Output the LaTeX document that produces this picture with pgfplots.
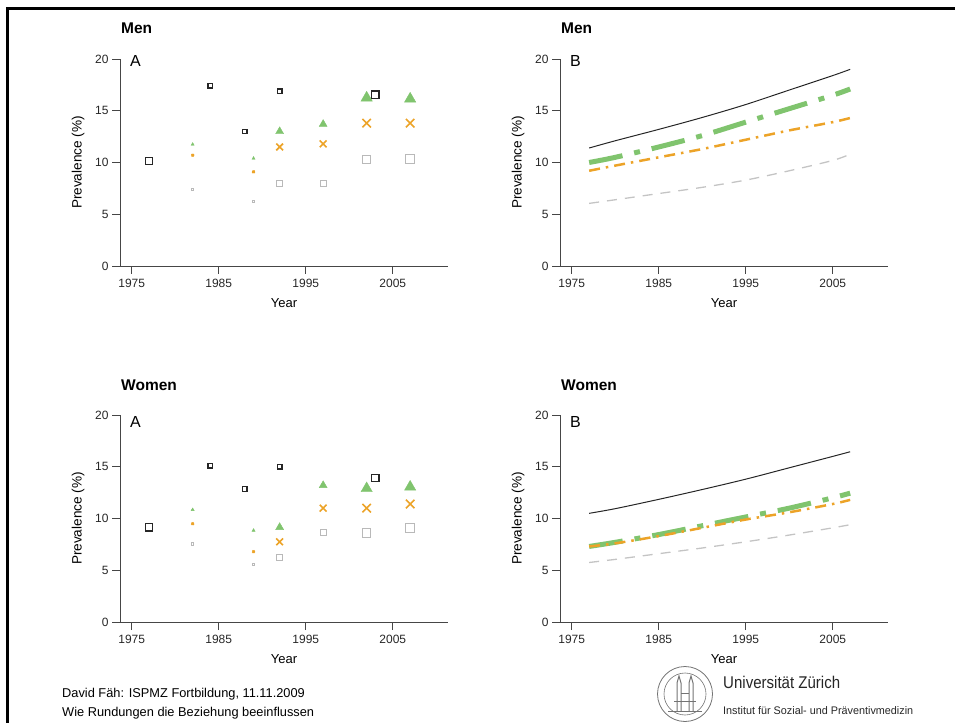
\documentclass[border=0pt]{standalone}
\usepackage{pgfplots}
\pgfplotsset{compat=1.18}
\usepackage{fontspec}
\setmainfont{Liberation Sans}
\definecolor{cgreen}{RGB}{128,196,110}
\definecolor{corange}{RGB}{236,163,40}
\definecolor{cgrey}{RGB}{185,185,185}
\definecolor{caxis}{RGB}{70,70,70}
\pgfplotsset{
 panel/.style={
  scale only axis, width=328pt, height=207pt,
  xmin=1973.65, xmax=2011.35, ymin=0, ymax=20,
  axis lines=left, axis line style={-, line width=0.8pt, caxis},
  xtick={1975,1985,1995,2005}, ytick={0,5,10,15,20},
  tick align=outside, major tick length=8pt,
  every tick/.style={line width=0.8pt, caxis},
  /pgf/number format/assume math mode=true,
  /pgf/number format/1000 sep={},
  tick label style={font=\fontsize{12}{14}\selectfont, text=black!85},
  xticklabel style={yshift=-2pt},
  xlabel={Year}, ylabel={Prevalence (\%)},
  xlabel style={font=\fontsize{13}{15}\selectfont, at={([yshift=-37pt]axis description cs:0.5,0)}, anchor=center},
  ylabel style={font=\fontsize{13.6}{15}\selectfont, at={([xshift=-42pt]axis description cs:0,0.5)}, anchor=center},
  clip=false, anchor=south west,
 },
 blacksq/.style={only marks, mark=square, black!85, mark options={line width=1.3pt}},
 greysq/.style={only marks, mark=square, cgrey, mark options={line width=1pt}},
 greentri/.style={only marks, mark=triangle*, cgreen, mark options={draw=cgreen, fill=cgreen}},
 orangex/.style={only marks, mark=x, corange, mark options={line width=1.6pt}},
 lblack/.style={black!85, line width=1pt, smooth},
 lgreen/.style={cgreen, line width=5pt, dash pattern=on 34pt off 12pt on 6pt off 12pt, smooth},
 lorange/.style={corange, line width=2.5pt, dash pattern=on 11pt off 6pt on 2.5pt off 6pt, smooth},
 lgrey/.style={cgrey!85, line width=1.3pt, dash pattern=on 10pt off 8pt, smooth},
}
\begin{document}
\begin{tikzpicture}[x=1pt,y=1pt]
\path[use as bounding box] (0,0) rectangle (955,723);
\draw[line width=2.8pt] (6,714.3) -- (955,714.3);
\draw[line width=3pt] (7.5,715.7) -- (7.5,0);

% ---------- Men A ----------
\begin{axis}[panel, at={(120pt,457pt)}]
\addplot[greysq, mark size=1.2] coordinates {(1982,7.4) (1989,6.25)};
\addplot[greysq, mark size=3.0] coordinates {(1992,8.0) (1997,8.0)};
\addplot[greysq, mark size=4.2] coordinates {(2002,10.3) (2007,10.35)};
\addplot[orangex, mark size=1.6] coordinates {(1982,10.7) (1989,9.1)};
\addplot[orangex, mark size=4.8] coordinates {(1992,11.5) (1997,11.8)};
\addplot[orangex, mark size=6.0] coordinates {(2002,13.8) (2007,13.8)};
\addplot[greentri, mark size=1.8] coordinates {(1982,11.75) (1989,10.4)};
\addplot[greentri, mark size=4.6] coordinates {(1992,13.0) (1997,13.7)};
\addplot[greentri, mark size=6.5] coordinates {(2002,16.25) (2007,16.15)};
\addplot[blacksq, mark size=2.2] coordinates {(1984,17.4) (1988,13.0) (1992,16.9)};
\addplot[blacksq, mark size=3.6] coordinates {(1977,10.15) (2003,16.55)};
\end{axis}

% ---------- Men B ----------
\begin{axis}[panel, at={(560pt,457pt)}]
\addplot[lgrey] coordinates {(1977,6.05) (1980,6.4) (1985,7.0) (1990,7.6) (1995,8.3) (2000,9.2) (2005,10.2) (2007,10.8)};
\addplot[lgreen] coordinates {(1977,10.0) (1980,10.5) (1985,11.5) (1990,12.6) (1995,13.9) (2000,15.2) (2005,16.5) (2007,17.1)};
\addplot[lorange] coordinates {(1977,9.2) (1980,9.7) (1985,10.5) (1990,11.3) (1995,12.2) (2000,13.1) (2005,13.9) (2007,14.3)};
\addplot[lblack] coordinates {(1977,11.4) (1980,12.1) (1985,13.2) (1990,14.35) (1995,15.6) (2000,17.0) (2005,18.4) (2007,19.0)};
\end{axis}

% ---------- Women A ----------
\begin{axis}[panel, at={(120pt,101pt)}]
\addplot[greysq, mark size=1.2] coordinates {(1982,7.55) (1989,5.55)};
\addplot[greysq, mark size=3.0] coordinates {(1992,6.25) (1997,8.6)};
\addplot[greysq, mark size=4.2] coordinates {(2002,8.6) (2007,9.1)};
\addplot[orangex, mark size=1.6] coordinates {(1982,9.5) (1989,6.8)};
\addplot[orangex, mark size=4.8] coordinates {(1992,7.75) (1997,11.0)};
\addplot[orangex, mark size=6.0] coordinates {(2002,11.0) (2007,11.4)};
\addplot[greentri, mark size=1.8] coordinates {(1982,10.85) (1989,8.85)};
\addplot[greentri, mark size=4.6] coordinates {(1992,9.15) (1997,13.2)};
\addplot[greentri, mark size=6.5] coordinates {(2002,12.9) (2007,13.05)};
\addplot[blacksq, mark size=2.2] coordinates {(1984,15.1) (1988,12.85) (1992,15.0)};
\addplot[blacksq, mark size=3.6] coordinates {(1977,9.15) (2003,13.9)};
\end{axis}

% ---------- Women B ----------
\begin{axis}[panel, at={(560pt,101pt)}]
\addplot[lgrey] coordinates {(1977,5.75) (1980,6.05) (1985,6.6) (1990,7.15) (1995,7.75) (2000,8.4) (2005,9.1) (2007,9.4)};
\addplot[lgreen] coordinates {(1977,7.3) (1980,7.7) (1985,8.45) (1990,9.3) (1995,10.15) (2000,11.0) (2005,12.0) (2007,12.45)};
\addplot[lorange] coordinates {(1977,7.3) (1980,7.6) (1985,8.3) (1990,9.1) (1995,9.9) (2000,10.6) (2005,11.4) (2007,11.8)};
\addplot[lblack] coordinates {(1977,10.5) (1980,10.95) (1985,11.85) (1990,12.8) (1995,13.8) (2000,14.9) (2005,16.0) (2007,16.45)};
\end{axis}

% titles and panel letters
\begin{scope}[every node/.style={inner sep=0pt, anchor=base west}]
\node[font=\fontsize{15.5}{18}\selectfont\bfseries] at (121,689) {Men};
\node[font=\fontsize{15.5}{18}\selectfont\bfseries] at (561,689) {Men};
\node[font=\fontsize{15.5}{18}\selectfont\bfseries] at (121,332.3) {Women};
\node[font=\fontsize{15.5}{18}\selectfont\bfseries] at (561,332.3) {Women};
\node[font=\fontsize{16}{19}\selectfont] at (130,656.3) {A};
\node[font=\fontsize{16}{19}\selectfont] at (570,656.3) {B};
\node[font=\fontsize{16}{19}\selectfont] at (130,295.7) {A};
\node[font=\fontsize{16}{19}\selectfont] at (570,295.7) {B};
\node[font=\fontsize{12.8}{15}\selectfont] at (62,25.7) {David Fäh: ISPMZ Fortbildung, 11.11.2009};
\node[font=\fontsize{12.8}{15}\selectfont] at (62,6.5) {Wie Rundungen die Beziehung beeinflussen};
\node[font=\fontsize{17}{20}\selectfont, text=black!85] at (723,35) {\resizebox{117pt}{\height}{Universität Zürich}};
\node[font=\fontsize{11}{13}\selectfont, text=black!85] at (723,9) {\resizebox{190pt}{\height}{Institut für Sozial- und Präventivmedizin}};
\end{scope}
% logo
\begin{scope}[draw=black!55]
\draw[line width=0.8pt] (685,29) circle (27.5);
\draw[line width=0.6pt] (685,29) circle (21);
\draw[line width=0.6pt] (668,12) -- (702,12);
\draw[line width=1pt] (677,12) -- (677,40) -- (679,47) -- (681,40) -- (681,12);
\draw[line width=1pt] (689,12) -- (689,40) -- (691,47) -- (693,40) -- (693,12);
\draw[line width=0.6pt] (674,22) -- (696,22);
\draw[line width=0.6pt] (681,30) -- (689,30);
\end{scope}
\end{tikzpicture}
\end{document}
